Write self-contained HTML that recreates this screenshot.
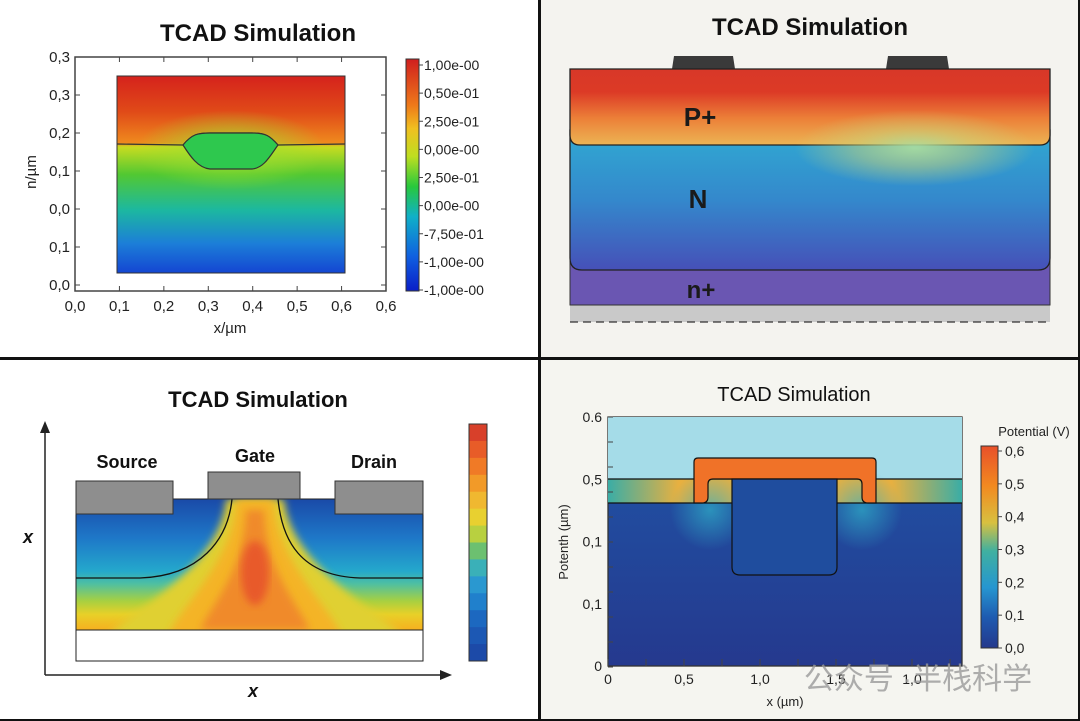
<!DOCTYPE html>
<html><head><meta charset="utf-8"><style>
html,body{margin:0;padding:0;background:#fff}
svg{display:block;font-family:"Liberation Sans","Noto Sans CJK SC",sans-serif}
</style></head><body>
<svg width="1080" height="721" viewBox="0 0 1080 721">
<defs>
<linearGradient id="g1" x1="0" y1="0" x2="0" y2="1">
<stop offset="0" stop-color="#d5221c"/><stop offset="0.18" stop-color="#e04a18"/><stop offset="0.34" stop-color="#ef8a1e"/>
<stop offset="0.36" stop-color="#c8dc20"/><stop offset="0.5" stop-color="#52c832"/><stop offset="0.68" stop-color="#1cb8a0"/>
<stop offset="0.85" stop-color="#1c7ed8"/><stop offset="1" stop-color="#1446d2"/></linearGradient>
<radialGradient id="g1r" cx="0.5" cy="0.5" r="0.5"><stop offset="0" stop-color="#9ee030" stop-opacity="0.9"/><stop offset="1" stop-color="#9ee030" stop-opacity="0"/></radialGradient>
<linearGradient id="cb1" x1="0" y1="0" x2="0" y2="1">
<stop offset="0" stop-color="#d01e1e"/><stop offset="0.2" stop-color="#ee7a1a"/><stop offset="0.3" stop-color="#f0c020"/><stop offset="0.42" stop-color="#bede20"/><stop offset="0.55" stop-color="#28c83c"/><stop offset="0.68" stop-color="#10b0c8"/><stop offset="0.85" stop-color="#1060e0"/><stop offset="1" stop-color="#0a1ec8"/></linearGradient>
<linearGradient id="pp" x1="0" y1="0" x2="0" y2="1"><stop offset="0" stop-color="#d83828"/><stop offset="0.3" stop-color="#dc3a26"/><stop offset="0.65" stop-color="#ec8038"/><stop offset="1" stop-color="#ecb454"/></linearGradient>
<radialGradient id="ppg" cx="0.5" cy="0.5" r="0.5"><stop offset="0" stop-color="#a8dca0" stop-opacity="0.95"/><stop offset="0.5" stop-color="#c8d47a" stop-opacity="0.5"/><stop offset="1" stop-color="#c8d47a" stop-opacity="0"/></radialGradient>
<linearGradient id="nn" x1="0" y1="0" x2="0" y2="1"><stop offset="0" stop-color="#30aad2"/><stop offset="0.5" stop-color="#3488cc"/><stop offset="1" stop-color="#4650b8"/></linearGradient>
<linearGradient id="bl" x1="0" y1="0" x2="0" y2="1">
<stop offset="0" stop-color="#1a4aa8"/><stop offset="0.3" stop-color="#1e78c8"/><stop offset="0.55" stop-color="#24a8cc"/><stop offset="0.65" stop-color="#50c0a0"/><stop offset="0.78" stop-color="#a8d040"/><stop offset="0.88" stop-color="#e8d028"/><stop offset="1" stop-color="#f6b020"/></linearGradient>
<filter id="blur3"><feGaussianBlur stdDeviation="4"/></filter>
<linearGradient id="tl" x1="0" y1="0" x2="1" y2="0"><stop offset="0" stop-color="#3aada6"/><stop offset="0.2" stop-color="#e8b040"/><stop offset="0.8" stop-color="#e8b040"/><stop offset="1" stop-color="#3aada6"/></linearGradient>
<linearGradient id="br" x1="0" y1="0" x2="0" y2="1"><stop offset="0" stop-color="#1f56a8"/><stop offset="1" stop-color="#25398e"/></linearGradient>
<linearGradient id="cb4" x1="0" y1="0" x2="0" y2="1"><stop offset="0" stop-color="#e8502a"/><stop offset="0.2" stop-color="#f28a20"/><stop offset="0.38" stop-color="#d8c040"/><stop offset="0.52" stop-color="#40b0a0"/><stop offset="0.7" stop-color="#2696d0"/><stop offset="0.85" stop-color="#1e5ab0"/><stop offset="1" stop-color="#24388c"/></linearGradient>
<radialGradient id="glow" cx="0.5" cy="0.5" r="0.5"><stop offset="0" stop-color="#30b0c8" stop-opacity="0.7"/><stop offset="1" stop-color="#30b0c8" stop-opacity="0"/></radialGradient>
<clipPath id="clipN"><rect x="570" y="69" width="480" height="201"/></clipPath>
<clipPath id="clipF"><rect x="76" y="499" width="347" height="131"/></clipPath>
</defs>

<rect x="541" y="0" width="539" height="357" fill="#f4f3ef"/>
<rect x="541" y="360" width="539" height="361" fill="#f5f5f0"/>
<rect x="538" y="0" width="3" height="721" fill="#111"/>
<rect x="0" y="357" width="1080" height="3" fill="#111"/>
<rect x="1078" y="0" width="2" height="721" fill="#111"/>
<rect x="0" y="719" width="1080" height="2" fill="#111"/>

<!-- Panel 1 -->
<g>
<text x="258" y="41" text-anchor="middle" font-size="24" font-weight="bold" fill="#111">TCAD Simulation</text>
<rect x="75" y="57" width="311" height="234" fill="#fff" stroke="#444" stroke-width="1.5"/>
<rect x="117" y="76" width="228" height="197" fill="url(#g1)" stroke="#333"/>
<ellipse cx="231" cy="150" rx="95" ry="40" fill="url(#g1r)"/>
<path d="M117 144 L183 145 C192 134 198 133 210 133 L252 133 C266 133 270 136 278 145 L345 144" fill="none" stroke="#333" stroke-width="1.2"/>
<path d="M183 145 C192 134 198 133 210 133 L252 133 C266 133 270 136 278 145 C270 156 264 168 252 169 L210 169 C198 168 190 156 183 145Z" fill="#2ec84e" stroke="#333" stroke-width="1.2"/>
<rect x="406" y="59" width="13" height="232" fill="url(#cb1)" stroke="#333"/>
<g id="p1ticks" fill="#222"></g>
<text x="230" y="333" text-anchor="middle" font-size="15" fill="#222">x/µm</text>
<text transform="translate(36,172) rotate(-90)" text-anchor="middle" font-size="15" fill="#222">n/µm</text>
</g>

<!-- Panel 2 -->
<g>
<text x="810" y="35" text-anchor="middle" font-size="24" font-weight="bold" fill="#111">TCAD Simulation</text>
<path d="M672 69 L674 56 L733 56 L735 69Z" fill="#3a3a3a"/>
<path d="M886 69 L888 56 L947 56 L949 69Z" fill="#3a3a3a"/>
<rect x="570" y="305" width="480" height="17" fill="#c9c9c9"/>
<line x1="570" y1="322" x2="1050" y2="322" stroke="#333" stroke-dasharray="8,5" stroke-width="1.3"/>
<rect x="570" y="250" width="480" height="55" fill="#6a56b2" stroke="#333"/>
<path d="M570 130 L1050 130 L1050 258 Q1050 270 1038 270 L582 270 Q570 270 570 258Z" fill="url(#nn)" stroke="#222" stroke-width="1.3"/>
<path d="M570 69 L1050 69 L1050 135 Q1050 145 1040 145 L580 145 Q570 145 570 135Z" fill="url(#pp)" stroke="#222" stroke-width="1.3"/>
<ellipse cx="915" cy="148" rx="120" ry="38" fill="url(#ppg)" clip-path="url(#clipN)"/>
<text x="700" y="126" text-anchor="middle" font-size="26" font-weight="bold" fill="#1a1a1a">P+</text>
<text x="698" y="208" text-anchor="middle" font-size="26" font-weight="bold" fill="#1a1a1a">N</text>
<text x="701" y="298" text-anchor="middle" font-size="24" font-weight="bold" fill="#1a1a1a">n+</text>
</g>

<!-- Panel 3 -->
<g>
<text x="258" y="407" text-anchor="middle" font-size="22" font-weight="bold" fill="#111">TCAD Simulation</text>
<line x1="45" y1="675" x2="45" y2="425" stroke="#222" stroke-width="1.5"/>
<path d="M40 433 L45 421 L50 433Z" fill="#222"/>
<line x1="45" y1="675" x2="448" y2="675" stroke="#222" stroke-width="1.5"/>
<path d="M440 670 L452 675 L440 680Z" fill="#222"/>
<text x="28" y="543" text-anchor="middle" font-size="18" font-weight="bold" font-style="italic" fill="#111">x</text>
<text x="253" y="697" text-anchor="middle" font-size="18" font-weight="bold" font-style="italic" fill="#111">x</text>
<rect x="76" y="630" width="347" height="31" fill="#fff" stroke="#222"/>
<rect x="76" y="499" width="347" height="131" fill="url(#bl)"/>
<g clip-path="url(#clipF)">
<path d="M226 499 C222 560 150 600 100 640 L410 640 C360 600 290 560 284 499Z" fill="#e0d030" filter="url(#blur3)"/>
<path d="M236 499 C234 560 185 600 165 640 L345 640 C325 600 276 560 274 499Z" fill="#f4b428" filter="url(#blur3)"/>
<path d="M246 510 C244 570 215 600 200 630 L310 630 C295 600 266 570 264 510Z" fill="#f08a2a" filter="url(#blur3)"/>
<ellipse cx="255" cy="573" rx="14" ry="32" fill="#e85a2a" filter="url(#blur3)"/>
</g>
<rect x="76" y="499" width="347" height="131" fill="none" stroke="#222"/>
<path d="M76 578 L140 578 C200 576 228 540 232 499" fill="none" stroke="#111" stroke-width="1.3"/>
<path d="M423 578 L360 578 C300 576 282 540 278 499" fill="none" stroke="#111" stroke-width="1.3"/>
<rect x="76" y="481" width="97" height="33" fill="#8e8e8e" stroke="#333"/>
<rect x="208" y="472" width="92" height="27" fill="#8e8e8e" stroke="#333"/>
<rect x="335" y="481" width="88" height="33" fill="#8e8e8e" stroke="#333"/>
<text x="127" y="468" text-anchor="middle" font-size="18" font-weight="bold" fill="#111">Source</text>
<text x="255" y="462" text-anchor="middle" font-size="18" font-weight="bold" fill="#111">Gate</text>
<text x="374" y="468" text-anchor="middle" font-size="18" font-weight="bold" fill="#111">Drain</text>
<g id="p3bar"></g>
</g>

<!-- Panel 4 -->
<g>
<text x="794" y="401" text-anchor="middle" font-size="20" fill="#111">TCAD Simulation</text>
<rect x="608" y="417" width="354" height="249" fill="url(#br)" stroke="#333" stroke-width="1.3"/>
<rect x="608" y="417" width="354" height="62" fill="#a5dce8"/>
<rect x="608" y="479" width="354" height="24" fill="url(#tl)"/>
<ellipse cx="710" cy="510" rx="40" ry="40" fill="url(#glow)"/>
<ellipse cx="862" cy="510" rx="40" ry="40" fill="url(#glow)"/>
<line x1="608" y1="479" x2="962" y2="479" stroke="#111" stroke-width="1.2"/>
<line x1="608" y1="503" x2="962" y2="503" stroke="#111" stroke-width="1.2"/>
<path d="M694 503 L694 462 Q694 458 698 458 L872 458 Q876 458 876 462 L876 503 L868 503 Q862 503 862 497 L862 484 Q862 479 857 479 L713 479 Q708 479 708 484 L708 497 Q708 503 702 503Z" fill="#f07228" stroke="#111" stroke-width="1.2"/>
<path d="M732 479 L837 479 L837 567 Q837 575 829 575 L740 575 Q732 575 732 567Z" fill="#1f4d9e" stroke="#111" stroke-width="1.2"/>
<rect x="981" y="446" width="17" height="202" fill="url(#cb4)" stroke="#333"/>
<text x="1034" y="436" text-anchor="middle" font-size="13" fill="#222">Potential (V)</text>
<g id="p4ticks" fill="#222"></g>
<text x="785" y="706" text-anchor="middle" font-size="13" fill="#222">x (µm)</text>
<text transform="translate(568,542) rotate(-90)" text-anchor="middle" font-size="13" fill="#222">Potenth (µm)</text>
<text x="918" y="689" text-anchor="middle" font-size="30" fill="#9a9a9a" opacity="0.8">公众号 ·半栈科学</text>
</g>

<script>
const NS='http://www.w3.org/2000/svg';
function T(g,x,y,s,anchor,size){const t=document.createElementNS(NS,'text');t.setAttribute('x',x);t.setAttribute('y',y);t.setAttribute('text-anchor',anchor);t.setAttribute('font-size',size);t.textContent=s;


g.appendChild(t);return t;}
function L(g,x1,y1,x2,y2){const l=document.createElementNS(NS,'line');l.setAttribute('x1',x1);l.setAttribute('y1',y1);l.setAttribute('x2',x2);l.setAttribute('y2',y2);l.setAttribute('stroke','#444');g.appendChild(l);}

const p1XTicks=['0,0','0,1','0,2','0,3','0,4','0,5','0,6','0,6'];
const p1YTicks=['0,3','0,3','0,2','0,1','0,0','0,1','0,0'];
const p1CbarTicks=['1,00e-00','0,50e-01','2,50e-01','0,00e-00','2,50e-01','0,00e-00','-7,50e-01','-1,00e-00','-1,00e-00'];
const g1=document.getElementById('p1ticks');
p1XTicks.forEach((s,i)=>{const x=75+(386-75)*i/(p1XTicks.length-1);T(g1,x,311,s,'middle',15);L(g1,x,291,x,286);L(g1,x,57,x,62);});
p1YTicks.forEach((s,i)=>{const y=57+(285-57)*i/(p1YTicks.length-1);T(g1,70,y+5,s,'end',15);L(g1,75,y,80,y);L(g1,386,y,381,y);});
p1CbarTicks.forEach((s,i)=>{const y=65+(290-65)*i/(p1CbarTicks.length-1);T(g1,424,y+5,s,'start',14);L(g1,419,y,423,y);});

const p3Levels=['#d8402a','#e85c28','#f07a26','#f29a28','#f0b830','#e8d030','#b8d040','#6cc070','#3ab0b8','#2a98d0','#2080cc','#1c68c0','#1c58b4','#1c4aa8'];
const g3=document.getElementById('p3bar');
p3Levels.forEach((c,i)=>{const h=(661-424)/p3Levels.length;const r=document.createElementNS(NS,'rect');r.setAttribute('x',469);r.setAttribute('y',424+i*h);r.setAttribute('width',18);r.setAttribute('height',h+0.5);r.setAttribute('fill',c);


g3.appendChild(r);});
const fr=document.createElementNS(NS,'rect');fr.setAttribute('x',469);fr.setAttribute('y',424);fr.setAttribute('width',18);fr.setAttribute('height',237);fr.setAttribute('fill','none');fr.setAttribute('stroke','#333');g3.appendChild(fr);

const p4XTicks=['0','0,5','1,0','1,5','1,0'];
const p4YTicks=['0.6','0,5','0,1','0,1','0'];
const p4CbarTicks=['0,6','0,5','0,4','0,3','0,2','0,1','0,0'];
const g4=document.getElementById('p4ticks');
p4XTicks.forEach((s,i)=>{const x=608+76*i;T(g4,x,684,s,'middle',14);});
for(let i=0;i<=14;i++){const x=608+38*i;if(x<=962)L(g4,x,666,x,659);}
p4YTicks.forEach((s,i)=>{const y=417+(666-417)*i/(p4YTicks.length-1);T(g4,602,y+5,s,'end',14);});
for(let i=0;i<=10;i++){const y=417+25*i;L(g4,608,y,613,y);}
p4CbarTicks.forEach((s,i)=>{const y=451+(648-451)*i/(p4CbarTicks.length-1);T(g4,1005,y+5,s,'start',14);L(g4,998,y,1002,y);});
</script>
</svg>
</body></html>
